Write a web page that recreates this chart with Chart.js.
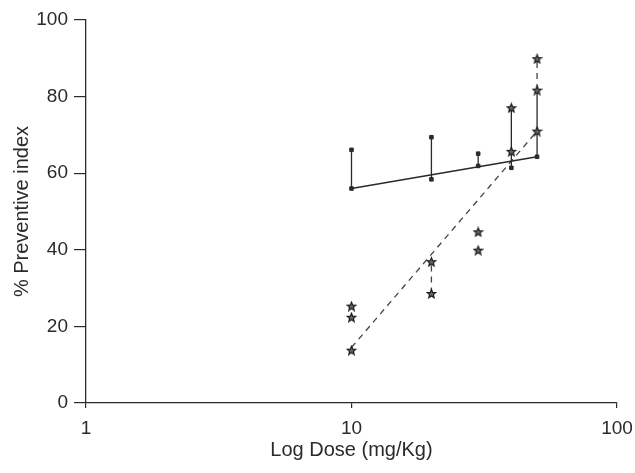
<!DOCTYPE html>
<html>
<head>
<meta charset="utf-8">
<script src="https://cdn.jsdelivr.net/npm/chart.js@4/dist/chart.umd.min.js"></script>
<style>
  html, body { margin: 0; padding: 0; background: #fff; }
  #wrap { width: 635px; height: 473px; position: relative; }
</style>
</head>
<body>
<div id="wrap"><canvas id="chart"></canvas></div>
<script>
// values
const doses = [10, 20, 30, 40, 50];
const lowerPI = [56.0, 58.4, 61.9, 61.4, 64.3];
const upperPI = [66.1, 69.4, 65.1, 77.1, 81.7];
const topSquareDoses = [10, 20, 30];
const topSquareValues = [66.1, 69.4, 65.1];

const starDoses = [10, 10, 10, 20, 20, 30, 30, 40, 40, 50, 50, 50];
const starValues = [25.3, 22.4, 13.8, 36.9, 28.6, 44.7, 39.9, 77.1, 65.7, 89.9, 81.7, 71.0];

const solidFitDoses = [10, 50];
const solidFitValues = [56.0, 64.3];
const dashedFitDoses = [10, 50];
const dashedFitValues = [14.5, 71.0];
const dashedLinkDoses = [20, 50];
const dashedLinkLow = [28.6, 81.7];
const dashedLinkHigh = [36.9, 89.9];

const xTicks = [1, 10, 100];
const yTicks = [0, 20, 40, 60, 80, 100];

const INK = '#2a2a2a';
const FONT = "'Liberation Sans', Arial, sans-serif";

function pts(xs, ys) {
    return xs.map((x, i) => ({ x: x, y: ys[i] }));
}

// vertical segments separated by gaps
function verticals(xs, lo, hi) {
    const out = [];
    xs.forEach((x, i) => {
        out.push({ x: x, y: lo[i] }, { x: x, y: hi[i] }, { x: x, y: null });
    });
    return out;
}

function makeStar(size) {
    const c = document.createElement('canvas');
    c.width = size; c.height = size;
    const g = c.getContext('2d');
    const cx = size / 2, cy = size / 2 + 0.5, R = size / 2 - 1, r = R * 0.45;
    g.beginPath();
    for (let i = 0; i < 10; i++) {
        const a = -Math.PI / 2 + i * Math.PI / 5;
        const rad = i % 2 ? r : R;
        g.lineTo(cx + rad * Math.cos(a), cy + rad * Math.sin(a));
    }
    g.closePath();
    g.fillStyle = '#666';
    g.fill();
    g.strokeStyle = '#1a1a1a';
    g.lineWidth = 1.2;
    g.stroke();
    return c;
}

const starImg = makeStar(11);

new Chart(document.getElementById('chart'), {
    type: 'scatter',
    data: {
        datasets: [
            {
                data: pts(starDoses, starValues),
                pointStyle: starImg, pointRadius: 5, showLine: false
            },
            {
                data: pts(doses, lowerPI).concat(pts(topSquareDoses, topSquareValues)),
                pointStyle: 'rect', pointRadius: 2.5, backgroundColor: INK, borderColor: INK,
                showLine: false
            },
            {
                data: pts(solidFitDoses, solidFitValues),
                showLine: true, borderColor: INK, borderWidth: 1.6, pointRadius: 0
            },
            {
                data: verticals(doses, lowerPI, upperPI),
                showLine: true, spanGaps: false, borderColor: INK, borderWidth: 1.3, pointRadius: 0
            },
            {
                data: pts(dashedFitDoses, dashedFitValues),
                showLine: true, borderColor: '#444', borderWidth: 1.3, borderDash: [6, 5], pointRadius: 0
            },
            {
                data: verticals(dashedLinkDoses, dashedLinkLow, dashedLinkHigh),
                showLine: true, spanGaps: false, borderColor: '#444', borderWidth: 1.3, borderDash: [6, 5], pointRadius: 0
            }
        ]
    },
    options: {
        responsive: true,
        maintainAspectRatio: false,
        animation: false,
        layout: { padding: { top: 20, right: 18, left: 0, bottom: 0 } },
        plugins: { legend: { display: false }, tooltip: { enabled: false } },
        scales: {
            x: {
                type: 'logarithmic',
                min: 1, max: 100,
                afterBuildTicks: (scale) => { scale.ticks = xTicks.map(v => ({ value: v })); },
                afterFit: (scale) => { scale.height = 70; scale.paddingLeft = 0; scale.paddingRight = 0; },
                ticks: {
                    color: INK, font: { family: FONT, size: 19 }, padding: 9,
                    maxRotation: 0, autoSkip: false,
                    callback: (v) => String(v)
                },
                grid: { drawOnChartArea: false, tickLength: 5, color: INK, lineWidth: 1.2 },
                border: { color: INK, width: 1.3 },
                title: {
                    display: true, text: 'Log Dose (mg/Kg)', color: INK,
                    font: { family: FONT, size: 20 }, padding: { top: 4, bottom: 11 }
                }
            },
            y: {
                min: 0, max: 100,
                afterBuildTicks: (scale) => { scale.ticks = yTicks.map(v => ({ value: v })); },
                afterFit: (scale) => { scale.width = 86; scale.paddingTop = 0; scale.paddingBottom = 0; },
                ticks: { color: INK, font: { family: FONT, size: 19 }, padding: 6 },
                grid: { drawOnChartArea: false, tickLength: 12, color: INK, lineWidth: 1.2 },
                border: { color: INK, width: 1.3 },
                title: {
                    display: true, text: '% Preventive index', color: INK,
                    font: { family: FONT, size: 20 }, padding: { top: 10, bottom: 4 }
                }
            }
        }
    }
});
</script>
</body>
</html>
